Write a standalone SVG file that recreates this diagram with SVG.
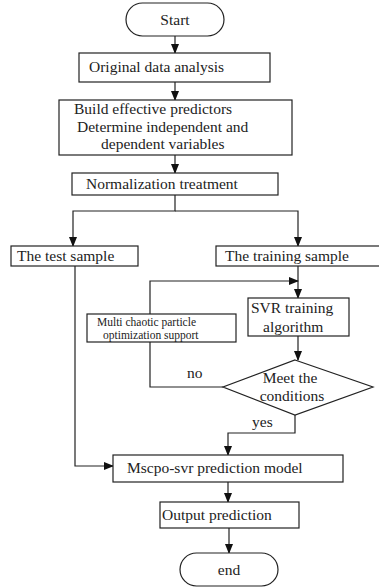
<svg xmlns="http://www.w3.org/2000/svg" width="379" height="587" viewBox="0 0 379 587">
<style>
.b{fill:#fff;stroke:#222;stroke-width:1.2}
.t{font-family:"Liberation Serif",serif;font-size:15.5px;fill:#222}
.s{font-family:"Liberation Serif",serif;font-size:11.5px;fill:#222}
.c{fill:none;stroke:#222;stroke-width:1.2}
</style>
<defs>
<marker id="a" markerWidth="10" markerHeight="8" refX="9" refY="4" orient="auto" markerUnits="userSpaceOnUse">
<path d="M0,0 L10,4 L0,8 Z" fill="#111"/>
</marker>
</defs>
<rect width="379" height="587" fill="#fff"/>
<g id="connectors">
<path class="c" d="M175,36 V53" marker-end="url(#a)"/>
<path class="c" d="M175,82 V100" marker-end="url(#a)"/>
<path class="c" d="M175,155 V173" marker-end="url(#a)"/>
<path class="c" d="M175,195 V211 H73 V246" marker-end="url(#a)"/>
<path class="c" d="M175,211 H298 V246" marker-end="url(#a)"/>
<path class="c" d="M298,266 V298" marker-end="url(#a)"/>
<path class="c" d="M223,387 H150 V281 H298" marker-end="url(#a)"/>
<path class="c" d="M298,336 V360" marker-end="url(#a)"/>
<path class="c" d="M295,415 V433 H228 V455" marker-end="url(#a)"/>
<path class="c" d="M75,266 V466 H113" marker-end="url(#a)"/>
<path class="c" d="M228,482 V502" marker-end="url(#a)"/>
<path class="c" d="M229,528 V553" marker-end="url(#a)"/>
</g>
<g id="start"><rect class="b" x="126" y="3" width="98" height="33" rx="16.5"/><text class="t" x="175" y="25" text-anchor="middle">Start</text></g>
<g id="original"><rect class="b" x="79" y="53" width="191" height="29"/><text class="t" x="89" y="72">Original data analysis</text></g>
<g id="build"><rect class="b" x="59" y="100" width="233" height="55"/>
<text class="t" x="74" y="114">Build effective predictors</text>
<text class="t" x="77" y="132">Determine independent and</text>
<text class="t" x="101" y="149">dependent variables</text></g>
<g id="normalization"><rect class="b" x="72" y="173" width="206" height="22"/><text class="t" x="86" y="189">Normalization treatment</text></g>
<g id="test"><rect class="b" x="11" y="246" width="127" height="20"/><text class="t" x="17" y="261">The test sample</text></g>
<g id="training"><rect class="b" x="216" y="246" width="170" height="20"/><text class="t" x="225" y="261">The training sample</text></g>
<g id="multi"><rect class="b" x="87" y="314" width="149" height="28"/>
<text class="s" x="97" y="326">Multi chaotic particle</text>
<text class="s" x="103" y="339">optimization support</text></g>
<g id="svr"><rect class="b" x="248" y="298" width="101" height="38"/>
<text class="t" x="251" y="313">SVR training</text>
<text class="t" x="263" y="332">algorithm</text></g>
<g id="meet"><path class="b" d="M295,360 L373,387 L295,415 L223,387 Z"/>
<text class="t" x="290" y="383" text-anchor="middle">Meet the</text>
<text class="t" x="292" y="401" text-anchor="middle">conditions</text></g>
<text class="t" x="187" y="378">no</text>
<text class="t" x="252" y="427">yes</text>
<g id="mscpo"><rect class="b" x="113" y="455" width="230" height="27"/><text class="t" x="127" y="473">Mscpo-svr prediction model</text></g>
<g id="output"><rect class="b" x="160" y="502" width="139" height="26"/><text class="t" x="162" y="520">Output prediction</text></g>
<g id="end"><rect class="b" x="180" y="553" width="98" height="33" rx="16.5"/><text class="t" x="229" y="575" text-anchor="middle">end</text></g>
</svg>
